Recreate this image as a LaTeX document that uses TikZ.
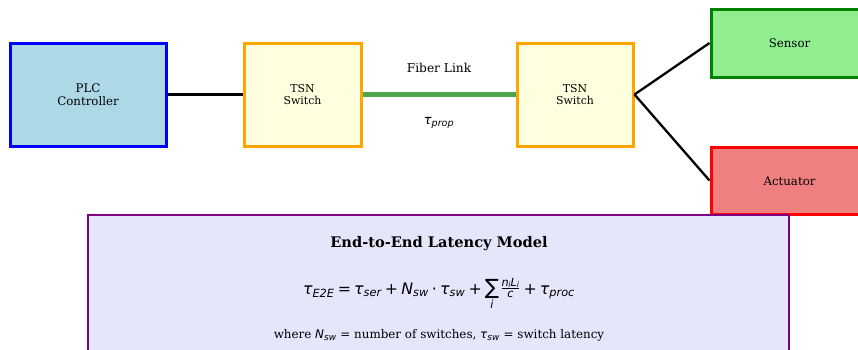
\documentclass[tikz,border=0pt]{standalone}
\usepackage{fontspec}
\setmainfont{DejaVu Serif}
\newfontfamily\dvsans{DejaVu Sans}
\newfontfamily\dvit{DejaVu Sans Oblique}
\definecolor{lblue}{HTML}{ADD8E6}
\definecolor{lyellow}{HTML}{FFFFE0}
\definecolor{orng}{HTML}{FFA500}
\definecolor{lgreen}{HTML}{90EE90}
\definecolor{dgreen}{HTML}{008000}
\definecolor{lcoral}{HTML}{F08080}
\definecolor{lav}{HTML}{E6E6FA}
\definecolor{purp}{HTML}{800080}
\definecolor{fiber}{HTML}{4DA64D}
% italic sans letters and small subscripts for the latency formula
\newcommand\mvar[1]{\hbox{\dvit #1}}
\newcommand\msub[2]{\hbox{\fontsize{#1}{#1}\selectfont\dvit #2}}
\newcommand\mop[1]{\mathbin{\hbox{\dvsans #1}}}
\newcommand\idx{\lower1.2pt\hbox{\fontsize{8}{8}\selectfont i}}
\begin{document}
\begin{tikzpicture}[x=1pt,y=-1pt,
  box/.style={draw,line width=3pt,inner sep=0pt,align=center,font=\fontsize{11.8}{13}\selectfont},
  lbl/.style={font=\fontsize{11.8}{13}\selectfont},
  link/.style={line width=2.3pt,black}]
\clip (0,0) rectangle (858,349);
\useasboundingbox (0,0) rectangle (858,349);
\node[box,draw=blue,fill=lblue,minimum width=156pt,minimum height=103pt] (plc) at (88,94.5) {PLC\\Controller};
\node[box,draw=orng,fill=lyellow,minimum width=117pt,minimum height=103pt,font=\fontsize{10.9}{11.5}\selectfont] (sw1) at (302.5,94.5) {TSN\\Switch};
\node[box,draw=orng,fill=lyellow,minimum width=116pt,minimum height=103pt,font=\fontsize{10.9}{11.5}\selectfont] (sw2) at (575,94.5) {TSN\\Switch};
\node[box,draw=dgreen,fill=lgreen,minimum width=159pt,minimum height=68pt] (sensor) at (790.5,43) {};
\node[lbl] (sensorlbl) at (789.5,43) {Sensor};
\node[box,draw=red,fill=lcoral,minimum width=159pt,minimum height=67pt] (act) at (790.5,180.5) {};
\node[lbl] (actlbl) at (789.5,181) {Actuator};
\draw[link] (plc.east) -- (sw1.west);
\draw[line width=4.5pt,fiber] (sw1.east) -- (sw2.west);
\draw[link] (sw2.east) -- (sensor.west);
\draw[link] (sw2.east) -- (act.west);
\node[font=\fontsize{12.2}{13}\selectfont] (fib) at (439,68) {Fiber Link};
\node (prop) at (439,123) {$\mvar{\fontsize{13}{14}\selectfont τ}_{\msub{9.6}{prop}}$};
\node[box,draw=purp,fill=lav,line width=2.6pt,minimum width=701pt,minimum height=145pt] (model) at (438.5,287.5) {};
\node[font=\fontsize{14.6}{16}\selectfont\bfseries] (title) at (439,244) {End-to-End Latency Model};
\node[font=\fontsize{15.8}{17}\selectfont] (eq) at (439,294) {$\mvar{τ}_{\msub{11.3}{E2E}}\mop{=}\mvar{τ}_{\msub{11.3}{ser}}\mop{+}\mvar{N}_{\msub{11.3}{sw}}\mop{·}\mvar{τ}_{\msub{11.3}{sw}}\mop{+}\mathop{\hbox{\fontsize{21}{21}\selectfont\dvsans ∑}}\limits_{\msub{11.3}{i}}\kern-1pt\raisebox{2.5pt}{$\frac{\msub{11.3}{n\kern-0.5pt\idx L\idx}}{\msub{11.3}{c}}$}\mop{+}\mvar{τ}_{\msub{11.3}{proc}}$};
\node[font=\fontsize{11.9}{13}\selectfont] (where) at (439,335) {where $\mvar{N}_{\msub{9}{sw}}$ = number of switches, $\mvar{τ}_{\msub{9}{sw}}$ = switch latency};
\end{tikzpicture}
\end{document}
